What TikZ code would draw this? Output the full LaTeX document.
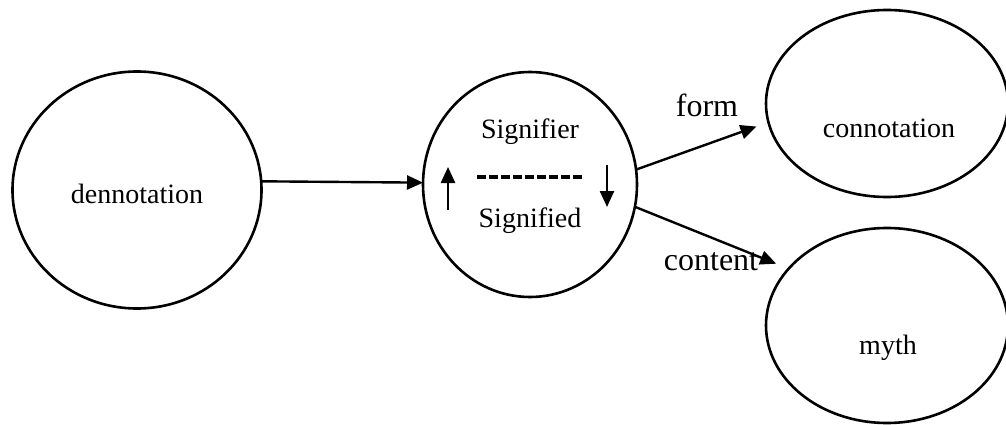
\documentclass[tikz,border=0pt]{standalone}
\usepackage{fontspec}
\setmainfont{Liberation Serif}
\usetikzlibrary{shapes.geometric,arrows.meta}
\begin{document}
\begin{tikzpicture}[x=1pt,y=-1pt,
  blob/.style={draw, ellipse, line width=2.6pt, inner sep=0pt, outer sep=0pt},
  txt/.style={font=\fontsize{28}{32}\selectfont, anchor=base, inner sep=0pt},
  lbl/.style={font=\fontsize{32}{36}\selectfont, anchor=base, inner sep=0pt},
  arr/.style={line width=2.4pt, -{Triangle[length=16pt,width=14pt]}},
  divider/.style={line width=3.5pt, dash pattern=on 9pt off 3pt}
  ]
\useasboundingbox (0,0) rectangle (1006,425);
\node[blob, minimum width=249pt, minimum height=237pt] (den) at (137,190) {};
\node[blob, minimum width=214pt, minimum height=225pt] (sig) at (530,184.5) {};
\node[blob, minimum width=242pt, minimum height=187pt] (con) at (887,103.5) {};
\node[blob, minimum width=242pt, minimum height=195pt] (myth) at (887,325.5) {};

\node[txt] (dent) at (137,203) {dennotation};
\node[txt] (sfr) at (530,139) {Signifier};
\node[txt] (sfd) at (530,227) {Signified};
\node[txt] (cont) at (889,137) {connotation};
\node[txt] (myt) at (888,354) {myth};
\node[lbl] (form) at (707,117) {form};
\node[lbl] (content) at (711,270) {content};

\draw[arr] (den.4) -- (sig.179);
\draw[arr, shorten >=12.7pt] (sig.8) -- (con.189);
\draw[arr, shorten >=13.4pt] (sig.-12) -- (myth.150);

\coordinate (upb) at (448,210);
\coordinate (upt) at (448,167);
\coordinate (dnt) at (607,165);
\coordinate (dnb) at (607,207);
\draw[arr] (upb) -- (upt);
\draw[arr] (dnt) -- (dnb);
\draw[divider] (477,177) -- (583,177);
\end{tikzpicture}
\end{document}
